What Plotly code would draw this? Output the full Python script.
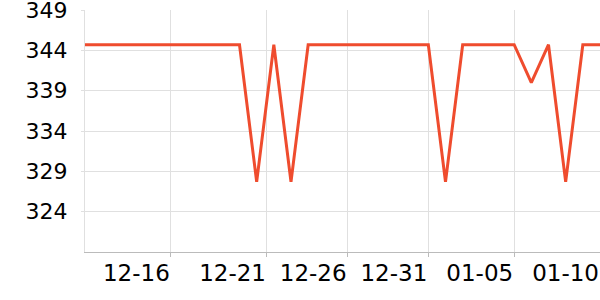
import plotly.graph_objects as go

# categories: daily dates
dates = ["12-11", "12-12", "12-13", "12-14", "12-15", "12-16", "12-17", "12-18",
         "12-19", "12-20", "12-21", "12-22", "12-23", "12-24", "12-25", "12-26",
         "12-27", "12-28", "12-29", "12-30", "12-31", "01-01", "01-02", "01-03",
         "01-04", "01-05", "01-06", "01-07", "01-08", "01-09", "01-10"]
values = [344.7, 344.7, 344.7, 344.7, 344.7, 344.7, 344.7, 344.7, 344.7, 344.7,
          327.7, 344.7, 327.7, 344.7, 344.7, 344.7, 344.7, 344.7, 344.7, 344.7,
          344.7, 327.7, 344.7, 344.7, 344.7, 344.7, 340.0, 344.7, 327.7, 344.7,
          344.7]

x_tick_pos = [5, 10.6, 15.3, 20, 25, 30]
x_tick_text = ["12-16", "12-21", "12-26", "12-31", "01-05", "01-10"]
y_tick_vals = [324, 329, 334, 339, 344, 349]

xs = list(range(len(dates)))

fig = go.Figure()
fig.add_trace(go.Scatter(
    x=xs, y=values, mode="lines", customdata=dates,
    line=dict(color="#ef4c2e", width=3),
    hovertemplate="%{customdata}: %{y}<extra></extra>",
))

xfont = dict(family="DejaVu Sans", size=23, color="#000000")
yfont = dict(family="DejaVu Sans", size=22, color="#000000")
fig.update_layout(
    width=600, height=300,
    margin=dict(l=85, r=0, t=10, b=48),
    paper_bgcolor="white", plot_bgcolor="white",
    showlegend=False,
    font=yfont,
)
fig.update_xaxes(
    range=[0, len(dates) - 1],
    tickmode="array", tickvals=x_tick_pos, ticktext=x_tick_text,
    ticklabelposition="outside left",
    ticklabeloverflow="allow",
    automargin=False,
    ticks="outside", ticklen=4, tickcolor="#bbbbbb",
    showgrid=True, gridcolor="#e0e0e0", gridwidth=1,
    showline=True, linecolor="#bbbbbb", linewidth=1,
    zeroline=False, tickfont=xfont,
)
fig.update_yaxes(
    range=[319, 349],
    tickmode="array", tickvals=y_tick_vals,
    ticklabeloverflow="allow",
    automargin=False,
    ticks="outside", ticklen=3, tickcolor="#e0e0e0",
    ticklabelstandoff=9,
    showgrid=True, gridcolor="#e0e0e0", gridwidth=1,
    showline=True, linecolor="#e0e0e0", linewidth=1,
    zeroline=False, tickfont=yfont,
)

fig.write_html("out.html")
